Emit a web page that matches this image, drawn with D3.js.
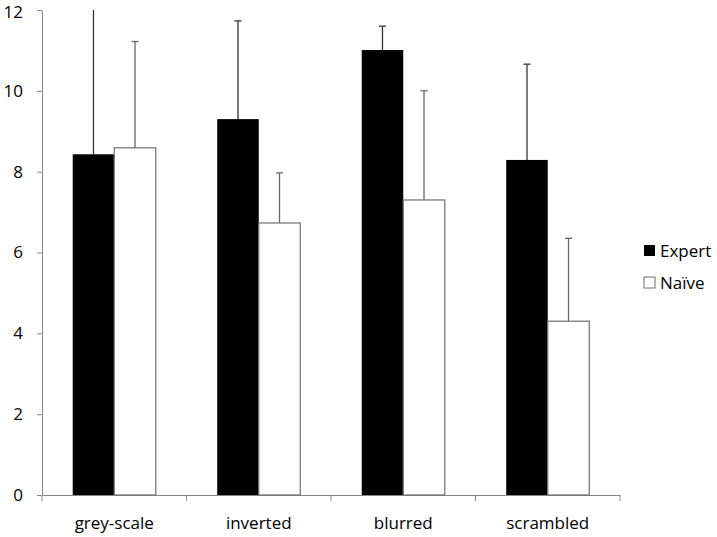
<!DOCTYPE html>
<html><head><meta charset="utf-8">
<script src="https://cdn.jsdelivr.net/npm/d3@7"></script>
<style>body{margin:0;background:#fff}svg{display:block}text{font-family:"Open Sans","Liberation Sans",sans-serif;fill:#000}</style>
</head><body>
<svg id="c" width="717" height="537"></svg>
<script>
const categories = ["grey-scale","inverted","blurred","scrambled"];
const seriesNames = ["Expert","Naïve"];
const expertValues = [8.43, 9.30, 11.01, 8.29];
const expertErrors = [4.0, 2.43, 0.59, 2.37];
const naiveValues = [8.59, 6.73, 7.30, 4.30];
const naiveErrors = [2.63, 1.24, 2.70, 2.05];
const yTicks = [0,2,4,6,8,10,12];

const svg = d3.select("#c");
const x0 = 42, x1 = 620, yTop = 10, yBot = 495;
const x = d3.scaleBand().domain(categories).range([x0, x1]).paddingInner(0).paddingOuter(0);
const xs = d3.scaleBand().domain(seriesNames).range([0, x.bandwidth()]).paddingInner(0).paddingOuter(0.74);
const y = d3.scaleLinear().domain([0,12]).range([yBot, yTop]);

const data = [];
categories.forEach((c,i)=>{
  data.push({c, s:"Expert", v:expertValues[i], e:expertErrors[i]});
  data.push({c, s:"Naïve", v:naiveValues[i], e:naiveErrors[i]});
});

svg.append("defs").append("clipPath").attr("id","clip")
  .append("rect").attr("x",0).attr("y",yTop).attr("width",717).attr("height",yBot-yTop+10);

// axes
const yAxis = svg.append("g").attr("transform",`translate(${x0},0)`)
  .call(d3.axisLeft(y).tickValues(yTicks).tickSize(5).tickPadding(14).tickSizeOuter(0));
yAxis.select(".domain").attr("stroke","#868686");
yAxis.selectAll(".tick line").attr("stroke","#868686");
yAxis.selectAll(".tick text").attr("font-size",17).attr("fill","#000")
  .attr("dy",d=>d===12?"0.45em":"0.32em");

const xAxis = svg.append("g").attr("transform",`translate(0,${yBot})`)
  .call(d3.axisBottom(x).tickSize(0).tickPadding(22).tickSizeOuter(0));
xAxis.select(".domain").attr("stroke","#868686");
xAxis.selectAll(".tick text").attr("font-size",17).attr("fill","#000");
const bounds = categories.map(c=>x(c)).concat([x1]);
svg.append("g").selectAll("line").data(bounds).join("line")
  .attr("x1",d=>d).attr("x2",d=>d).attr("y1",yBot).attr("y2",yBot+6).attr("stroke","#868686");

// error bars
const eg = svg.append("g").attr("clip-path","url(#clip)");
data.forEach(d=>{
  const cx = x(d.c)+xs(d.s)+xs.bandwidth()/2;
  eg.append("line").attr("x1",cx).attr("x2",cx).attr("y1",y(d.v)).attr("y2",y(d.v+d.e))
    .attr("stroke", d.s==="Expert" ? "#333" : "#666").attr("stroke-width",1.3);
  eg.append("line").attr("x1",cx-3.5).attr("x2",cx+3.5).attr("y1",y(d.v+d.e)).attr("y2",y(d.v+d.e))
    .attr("stroke", d.s==="Expert" ? "#333" : "#666").attr("stroke-width",1.3);
});

// bars
svg.append("g").selectAll("rect").data(data).join("rect")
  .attr("x",d=>x(d.c)+xs(d.s))
  .attr("y",d=>y(d.v))
  .attr("width",xs.bandwidth())
  .attr("height",d=>y(0)-y(d.v))
  .attr("fill",d=>d.s==="Expert"?"#000":"#fff")
  .attr("stroke",d=>d.s==="Expert"?"none":"#6e6e6e")
  .attr("stroke-width",1.2);

// legend
const lg = svg.append("g");
seriesNames.forEach((s,i)=>{
  const ly = 245 + i*32;
  lg.append("rect").attr("x",644).attr("y",ly).attr("width",11).attr("height",11)
    .attr("fill",i===0?"#000":"#fff").attr("stroke",i===0?"none":"#6e6e6e");
  lg.append("text").attr("x",660).attr("y",ly+12).attr("font-size",17).text(s);
});
</script>
</body></html>
